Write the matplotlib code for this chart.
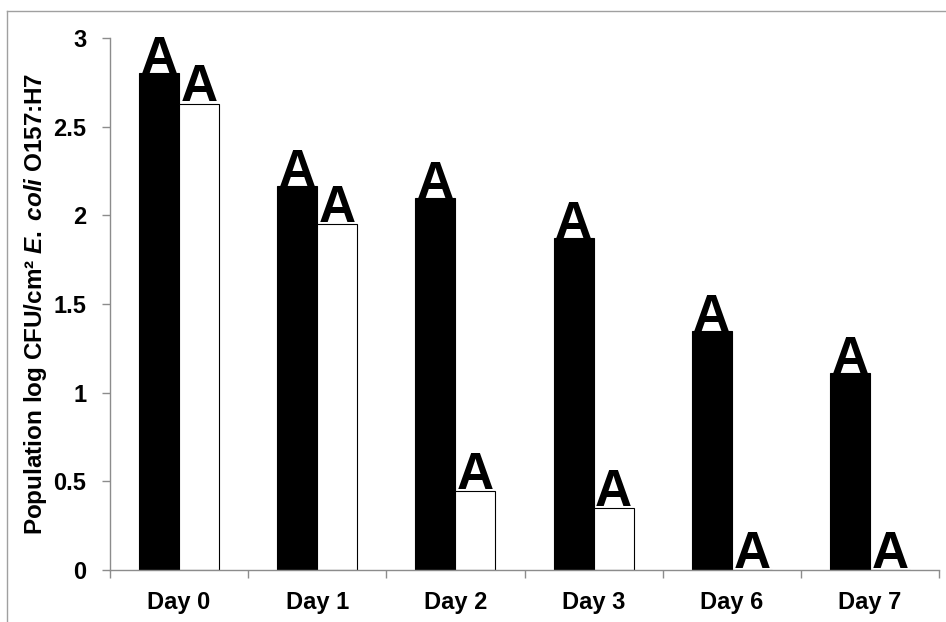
import matplotlib.pyplot as plt
import numpy as np
from matplotlib.lines import Line2D

plt.rcParams["font.family"] = ["Liberation Sans", "DejaVu Sans"]
plt.rcParams["font.weight"] = "bold"
plt.rcParams["mathtext.fontset"] = "custom"
plt.rcParams["mathtext.rm"] = "Liberation Sans:bold"
plt.rcParams["mathtext.it"] = "Liberation Sans:bold:italic"

# data
days = ["Day 0", "Day 1", "Day 2", "Day 3", "Day 6", "Day 7"]
black_vals = [2.80, 2.165, 2.10, 1.87, 1.35, 1.11]
white_vals = [2.63, 1.95, 0.445, 0.35, 0.0, 0.0]
black_letters = ["A", "A", "A", "A", "A", "A"]
white_letters = ["A", "A", "A", "A", "A", "A"]
y_ticks = [0, 0.5, 1, 1.5, 2, 2.5, 3]
y_tick_labels = ["0", "0.5", "1", "1.5", "2", "2.5", "3"]

axis_grey = "#8c8c8c"

fig = plt.figure(figsize=(9.46, 6.22), dpi=100)
ax = fig.add_axes([0.1163, 0.0836, 0.8763, 0.8553])

x = np.arange(len(days))
w = 0.29
ax.bar(x - w / 2, black_vals, w, color="black", edgecolor="black", linewidth=0.8)
ax.bar(x + w / 2, white_vals, w, color="white", edgecolor="black", linewidth=0.8)

# letters sit on top of each bar
for xi, v, s in zip(x - w / 2, black_vals, black_letters):
    ax.text(xi, v, s, ha="center", va="baseline", fontsize=37, fontweight="bold")
for xi, v, s in zip(x + w / 2, white_vals, white_letters):
    ax.text(xi, v + 0.012, s, ha="center", va="baseline", fontsize=37,
            fontweight="bold")

ax.set_xlim(-0.5, len(days) - 0.5)
ax.set_ylim(0, 3)

# tick marks at category boundaries, labels at centres
ax.set_xticks(np.arange(-0.5, len(days), 1.0))
ax.set_xticklabels([])
ax.set_xticks(x, minor=True)
ax.set_xticklabels(days, minor=True, fontsize=17, fontweight="bold")
ax.tick_params(axis="x", which="major", direction="out", length=6,
               color=axis_grey, width=1)
ax.tick_params(axis="x", which="minor", length=0, pad=15)

ax.set_yticks(y_ticks)
ax.set_yticklabels(y_tick_labels, fontsize=17, fontweight="bold")
ax.tick_params(axis="y", direction="out", length=6, color=axis_grey,
               width=1, pad=11)

for side in ["top", "right"]:
    ax.spines[side].set_visible(False)
for side in ["left", "bottom"]:
    ax.spines[side].set_color(axis_grey)
    ax.spines[side].set_linewidth(1)

ax.set_ylabel(r"Population log CFU/cm² $\mathit{E.\;coli}$ O157:H7",
              fontsize=17.5, fontweight="bold", labelpad=3)

# light frame round the chart area
fig.add_artist(Line2D([7 / 946, 7 / 946], [0, 1 - 11 / 622],
                      color="#a0a0a0", linewidth=1, transform=fig.transFigure))
fig.add_artist(Line2D([7 / 946, 1], [1 - 11 / 622, 1 - 11 / 622],
                      color="#a0a0a0", linewidth=1, transform=fig.transFigure))

fig.savefig("out.png", dpi=100)
